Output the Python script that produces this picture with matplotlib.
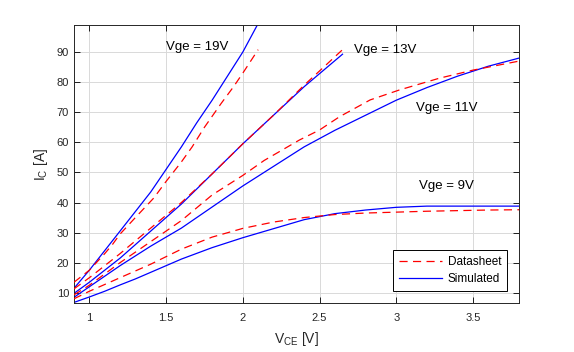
import matplotlib
matplotlib.use("Agg")
import matplotlib.pyplot as plt

plt.rcParams['font.family'] = ['Liberation Sans', 'DejaVu Sans']

# Datasheet (red dashed) curves
ds19_v = [0.9, 1.0, 1.1, 1.15, 1.2, 1.3, 1.42, 1.5, 1.6, 1.67, 1.75, 1.86, 1.94, 2.0, 2.1]
ds19_i = [13.5, 17.5, 23.0, 26.0, 29.5, 35.0, 41.5, 47.0, 53.5, 58.5, 65.0, 73.0, 78.5, 83.0, 90.8]
ds13_v = [0.9, 1.0, 1.2, 1.4, 1.6, 1.8, 2.0, 2.2, 2.4, 2.65]
ds13_i = [11.3, 15.0, 23.0, 31.5, 40.0, 49.5, 59.5, 69.0, 79.0, 90.8]
ds11_v = [0.9, 1.0, 1.2, 1.4, 1.6, 1.8, 2.0, 2.14, 2.37, 2.5, 2.63, 2.83, 3.02, 3.28, 3.5, 3.8]
ds11_i = [9.3, 12.5, 20.0, 27.0, 34.0, 42.5, 49.0, 54.0, 60.8, 64.1, 68.5, 74.1, 77.4, 81.3, 84.0, 87.0]
ds9_v = [0.9, 1.0, 1.2, 1.4, 1.6, 1.8, 2.0, 2.2, 2.4, 2.6, 2.8, 3.0, 3.2, 3.4, 3.6, 3.8]
ds9_i = [8.0, 10.5, 15.0, 19.5, 24.5, 28.5, 31.4, 33.5, 35.0, 36.0, 36.5, 36.8, 37.1, 37.3, 37.5, 37.6]

# Simulated (blue solid) curves
sim19_v = [0.9, 1.0, 1.1, 1.2, 1.3, 1.4, 1.5, 1.6, 1.7, 1.8, 1.9, 2.0, 2.1]
sim19_i = [11.5, 17.5, 24.0, 30.5, 37.0, 43.5, 51.0, 58.5, 66.5, 74.0, 82.0, 90.0, 99.5]
sim13_v = [0.9, 1.0, 1.2, 1.4, 1.6, 1.8, 2.0, 2.2, 2.4, 2.65]
sim13_i = [9.8, 13.5, 21.5, 30.5, 39.5, 49.5, 59.5, 69.0, 78.5, 89.3]
sim11_v = [0.9, 1.0, 1.2, 1.4, 1.6, 1.8, 2.0, 2.2, 2.4, 2.6, 2.8, 3.0, 3.2, 3.4, 3.6, 3.8]
sim11_i = [8.5, 12.0, 19.0, 25.5, 31.5, 38.5, 45.5, 52.0, 58.5, 64.0, 69.0, 74.0, 78.2, 82.0, 85.3, 88.0]
sim9_v = [0.9, 1.0, 1.1, 1.2, 1.3, 1.4, 1.5, 1.6, 1.8, 2.0, 2.2, 2.4, 2.6, 2.8, 3.0, 3.2, 3.4, 3.6, 3.8]
sim9_i = [6.8, 8.6, 10.5, 12.6, 14.6, 16.8, 19.0, 21.2, 25.0, 28.3, 31.3, 34.3, 36.3, 37.5, 38.4, 38.8, 38.8, 38.8, 38.8]

xticks = [1, 1.5, 2, 2.5, 3, 3.5]
xticklabels = ['1', '1.5', '2', '2.5', '3', '3.5']
yticks = [10, 20, 30, 40, 50, 60, 70, 80, 90]

labels = ['Vge = 19V', 'Vge = 13V', 'Vge = 11V', 'Vge = 9V']
label_pos = [(1.70, 91.7), (2.93, 90.7), (3.33, 71.4), (3.33, 45.5)]

fig = plt.figure(figsize=(5.74, 3.52), dpi=100)
ax = fig.add_axes([74/574, 49/352, 445/574, 278/352])

red = (1, 0, 0)
blue = (0, 0, 1)
dash = (6.5, 4.3)
txt = (0.15, 0.15, 0.15)

sims = [(sim19_v, sim19_i), (sim13_v, sim13_i), (sim11_v, sim11_i), (sim9_v, sim9_i)]
dss = [(ds19_v, ds19_i), (ds13_v, ds13_i), (ds11_v, ds11_i), (ds9_v, ds9_i)]

for k, (v, i) in enumerate(sims):
    ax.plot(v, i, color=blue, lw=0.9, zorder=2, label='Simulated' if k == 0 else None)
for k, (v, i) in enumerate(dss):
    ax.plot(v, i, color=red, lw=0.9, dashes=dash, zorder=3, label='Datasheet' if k == 0 else None)

for t, (x, y) in zip(labels, label_pos):
    ax.text(x, y, t, ha='center', va='center', fontsize=9.5)

ax.set_xlim(0.9, 3.8)
ax.set_ylim(6.6, 99)
ax.set_xticks(xticks)
ax.set_xticklabels(xticklabels)
ax.set_yticks(yticks)
ax.tick_params(direction='in', length=4, width=0.6, labelsize=8, top=True, right=True,
               colors='black', labelcolor=txt)
ax.tick_params(axis='x', pad=7)
ax.grid(True, color=(0.85, 0.85, 0.85), lw=0.7)
ax.set_axisbelow(True)
for s in ax.spines.values():
    s.set_linewidth(0.7)
    s.set_color(txt)

ax.set_xlabel('V$_{\\mathregular{CE}}$ [V]', fontsize=10, color=txt, labelpad=5)
ax.set_ylabel('I$_{\\mathregular{C}}$ [A]', fontsize=10, color=txt, labelpad=5)

h, l = ax.get_legend_handles_labels()
order = [l.index('Datasheet'), l.index('Simulated')]
leg = ax.legend([h[o] for o in order], [l[o] for o in order], loc='lower right',
                fontsize=8.5, fancybox=False, edgecolor='black', framealpha=1,
                borderaxespad=1.0, handlelength=3.6, handletextpad=0.5,
                borderpad=0.5, labelspacing=0.45)
leg.get_frame().set_linewidth(0.7)

fig.savefig('out.png', dpi=100)
